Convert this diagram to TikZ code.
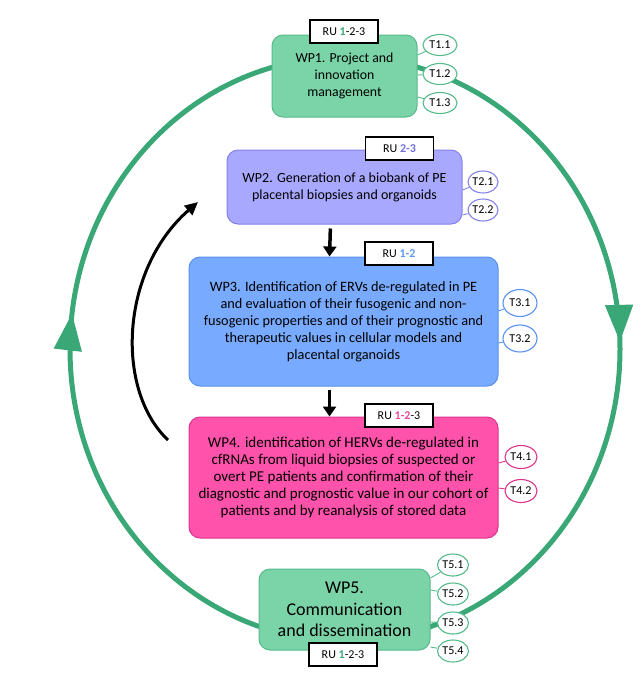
\documentclass[tikz,border=0pt]{standalone}
\usepackage{fontspec}
\setmainfont{Carlito}
\usetikzlibrary{%
	arrows.meta,%
	shapes,%
	decorations.markings
}

\definecolor{ring}{RGB}{58,168,118}
\definecolor{wpgreen}{RGB}{122,212,168}
\definecolor{wpgreenline}{RGB}{86,186,138}
\definecolor{wplilac}{RGB}{168,168,255}
\definecolor{wplilacline}{RGB}{130,130,235}
\definecolor{rulilac}{RGB}{112,112,222}
\definecolor{wpblue}{RGB}{120,170,255}
\definecolor{wpblueline}{RGB}{88,145,240}
\definecolor{rublue}{RGB}{92,152,245}
\definecolor{wppink}{RGB}{255,82,170}
\definecolor{wppinkline}{RGB}{222,52,142}
\definecolor{rupink}{RGB}{240,70,160}

\tikzset{
	wp/.style={draw, rounded corners=11pt, line width=1pt, align=center, inner sep=0pt,
		font=\fontsize{15}{17.2}\selectfont},
	ru/.style={draw, fill=white, line width=1.1pt, minimum width=68pt, minimum height=23pt,
		inner sep=0pt, font=\fontsize{12}{14}\selectfont},
	task/.style={ellipse, draw, fill=white, line width=1.1pt, minimum width=32pt,
		minimum height=22pt, inner sep=0pt, font=\fontsize{12}{14}\selectfont},
	tline/.style={line width=0.9pt},
	flow/.style={line width=3.5pt, -{Triangle[width=13pt,length=10pt]}},
	backarrow/.style={line width=3pt, -{Triangle[width=12pt,length=13pt]}}
}

\begin{document}
\begin{tikzpicture}[x=1pt, y=-1pt]
	\useasboundingbox (0,0) rectangle (641,683);
	% Cycle
	\draw[ring, line width=5pt, postaction={decorate}, decoration={markings,
		mark=at position 0.004 with {\arrowreversed{Triangle[width=27pt,length=37pt]}},
		mark=at position 0.48 with {\arrowreversed{Triangle[width=27pt,length=37pt]}}}]
		(345,349) ellipse [x radius=275pt, y radius=292pt];
	% Work packages
	\node[wp, fill=wpgreen, draw=wpgreenline, minimum width=145pt, minimum height=82pt, font=\fontsize{13.8}{17}\selectfont] (wp1) at (344.5,76) {WP1. Project and\\innovation\\management};
	\node[wp, fill=wplilac, draw=wplilacline, minimum width=235pt, minimum height=74pt, font=\fontsize{14}{17}\selectfont] (wp2) at (344.5,187) {WP2. Generation of a biobank of PE\\placental biopsies and organoids};
	\node[wp, fill=wpblue, draw=wpblueline, minimum width=309pt, minimum height=129pt, font=\fontsize{14.3}{17}\selectfont] (wp3) at (343.5,321.5) {WP3. Identification of ERVs de-regulated in PE\\and evaluation of their fusogenic and non-\\fusogenic properties and of their prognostic and\\therapeutic values in cellular models and\\placental organoids};
	\node[wp, fill=wppink, draw=wppinkline, minimum width=309pt, minimum height=121pt] (wp4) at (343.5,477.5) {WP4. identification of HERVs de-regulated in\\cfRNAs from liquid biopsies of suspected or\\overt PE patients and confirmation of their\\diagnostic and prognostic value in our cohort of\\patients and by reanalysis of stored data};
	\node[wp, fill=wpgreen, draw=wpgreenline, minimum width=171pt, minimum height=81pt, font=\fontsize{18}{21.5}\selectfont] (wp5) at (344.5,609.5) {WP5.\\Communication\\and dissemination};
	% Research units
	\node[ru] (ru1) at (344,31.5) {RU \textbf{\textcolor{ring}{1}}-2-3};
	\node[ru] (ru2) at (399.5,148.5) {RU \textbf{\textcolor{rulilac}{2-3}}};
	\node[ru] (ru3) at (399,253.5) {RU \textbf{\textcolor{rublue}{1-2}}};
	\node[ru] (ru4) at (399,415.5) {RU \textbf{\textcolor{rupink}{1-2}}-3};
	\node[ru] (ru5) at (343,654.5) {RU \textbf{\textcolor{ring}{1}}-2-3};
	% Tasks
	\node[task, draw=wpgreenline, minimum width=34pt, minimum height=21pt] (t11) at (440,45) {T1.1};
	\node[task, draw=wpgreenline, minimum width=34pt, minimum height=21pt] (t12) at (440,74) {T1.2};
	\node[task, draw=wpgreenline, minimum width=34pt, minimum height=21pt] (t13) at (440,103) {T1.3};
	\node[task, draw=wplilacline, minimum width=30pt] (t21) at (483,182) {T2.1};
	\node[task, draw=wplilacline, minimum width=30pt] (t22) at (483,210) {T2.2};
	\node[task, draw=wpblueline, minimum width=34pt, minimum height=27pt] (t31) at (520,303) {T3.1};
	\node[task, draw=wpblueline, minimum width=34pt, minimum height=27pt] (t32) at (520,338.5) {T3.2};
	\node[task, draw=wppinkline, minimum height=23pt] (t41) at (521,457) {T4.1};
	\node[task, draw=wppinkline, minimum height=23pt] (t42) at (521,491) {T4.2};
	\node[task, draw=wpgreenline, minimum width=31pt] (t51) at (453,565) {T5.1};
	\node[task, draw=wpgreenline, minimum width=31pt] (t52) at (453,594) {T5.2};
	\node[task, draw=wpgreenline, minimum width=31pt] (t53) at (453,623) {T5.3};
	\node[task, draw=wpgreenline, minimum width=31pt] (t54) at (453,651) {T5.4};
	% Task links
	\draw[tline, wpgreenline] (wp1.east |- 0,55) -- (t11);
	\draw[tline, wpgreenline] (wp1.east |- 0,75) -- (t12);
	\draw[tline, wpgreenline] (wp1.east |- 0,97) -- (t13);
	\draw[tline, wplilacline] (wp2.east |- 0,190) -- (t21);
	\draw[tline, wplilacline] (wp2.east |- 0,215) -- (t22);
	\draw[tline, wpblueline] (wp3.east |- 0,311) -- (t31);
	\draw[tline, wpblueline] (wp3.east |- 0,343) -- (t32);
	\draw[tline, wppinkline] (wp4.east |- 0,463) -- (t41);
	\draw[tline, wppinkline] (wp4.east |- 0,488) -- (t42);
	\draw[tline, wpgreenline] (wp5.east |- 0,578) -- (t51);
	\draw[tline, wpgreenline] (wp5.east |- 0,590) -- (t52);
	\draw[tline, wpgreenline] (wp5.east |- 0,622) -- (t53);
	\draw[tline, wpgreenline] (wp5.east |- 0,647) -- (t54);
	% Flow
	\draw[flow, shorten <=4pt] ([xshift=-14pt]wp2.south) -- ([xshift=-14pt]wp3.north);
	\draw[flow, shorten <=3pt] ([xshift=-14pt]wp3.south) -- ([xshift=-14pt]wp4.north);
	\coordinate (backA) at (168,440);
	\coordinate (backB) at (198,202);
	\draw[backarrow] (backA) .. controls (115,390) and (120,270) .. (backB);
\end{tikzpicture}
\end{document}
